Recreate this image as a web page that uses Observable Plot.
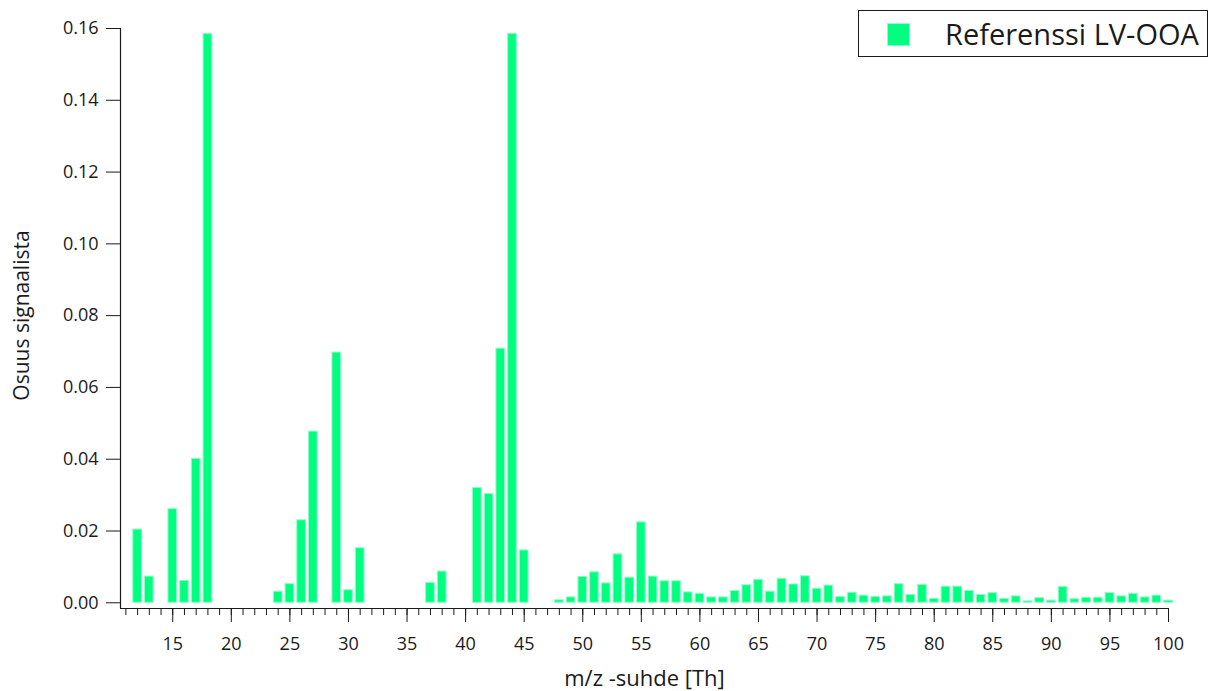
<!DOCTYPE html>
<html>
<head>
<meta charset="utf-8">
<script src="https://cdn.jsdelivr.net/npm/d3@7"></script>
<script src="https://cdn.jsdelivr.net/npm/@observablehq/plot@0.6"></script>
<style>
  html, body { margin: 0; padding: 0; background: #fff; }
  #chart { width: 1208px; height: 691px; }
</style>
</head>
<body>
<div id="chart"></div>
<script>
// Mass spectrum of the reference LV-OOA factor: m/z and fraction of signal
const mzValues = [
  12, 13, 15, 16, 17, 18, 24, 25, 26, 27, 29, 30, 31, 37, 38, 41, 42, 43, 44, 45,
  48, 49, 50, 51, 52, 53, 54, 55, 56, 57, 58, 59, 60, 61, 62, 63, 64, 65, 66, 67,
  68, 69, 70, 71, 72, 73, 74, 75, 76, 77, 78, 79, 80, 81, 82, 83, 84, 85, 86, 87,
  88, 89, 90, 91, 92, 93, 94, 95, 96, 97, 98, 99, 100
];
const signalFraction = [
  0.0204, 0.0073, 0.0261, 0.0061, 0.0401, 0.1585, 0.0031, 0.0052, 0.0230, 0.0477,
  0.0697, 0.0035, 0.0152, 0.0055, 0.0087, 0.0320, 0.0303, 0.0708, 0.1585, 0.0146,
  0.0007, 0.0015, 0.0072, 0.0085, 0.0054, 0.0135, 0.0070, 0.0224, 0.0073, 0.0060,
  0.0060, 0.0029, 0.0025, 0.0015, 0.0015, 0.0033, 0.0049, 0.0064, 0.0031, 0.0067,
  0.0051, 0.0074, 0.0039, 0.0048, 0.0016, 0.0028, 0.0020, 0.0016, 0.0018, 0.0052,
  0.0022, 0.0050, 0.0011, 0.0045, 0.0045, 0.0033, 0.0022, 0.0027, 0.0011, 0.0018,
  0.0004, 0.0013, 0.0006, 0.0044, 0.0010, 0.0014, 0.0014, 0.0027, 0.0018, 0.0025,
  0.0015, 0.0020, 0.0006
];
const seriesName = "Referenssi LV-OOA";
const xTitle = "m/z -suhde [Th]";
const yTitle = "Osuus signaalista";
const xMinorTicks = d3.range(11, 101);
const xMajorTicks = d3.range(15, 101, 5);
const yTicks = d3.range(0, 0.1601, 0.02);

const barFill = "#00ff80";
const barEdge = "#8dffc6";
const ink = "#1a1a1a";

const spectrum = mzValues.map((mz, i) => ({mz, value: signalFraction[i]}));
const halfBar = 0.37;

const fontFamily = "'Open Sans', 'Segoe UI', sans-serif";

const chart = Plot.plot({
  width: 1208,
  height: 691,
  marginLeft: 120,
  marginRight: 40,
  marginTop: 28,
  marginBottom: 83,
  style: {fontFamily, fontSize: "18px", color: ink, background: "#fff"},
  x: {domain: [10.54, 100], axis: null},
  y: {domain: [-0.00159, 0.16], axis: null},
  marks: [
    Plot.rectY(spectrum, {
      x1: d => d.mz - halfBar,
      x2: d => d.mz + halfBar,
      y1: 0,
      y2: "value",
      fill: barFill,
      stroke: barEdge,
      strokeWidth: 1
    }),
    // axis lines
    Plot.ruleY([-0.00159], {stroke: ink, strokeWidth: 1.2}),
    Plot.ruleX([10.54], {stroke: ink, strokeWidth: 1.2, y1: -0.00159, y2: 0.16}),
    // x axis: minor ticks every unit, labelled ticks every five
    Plot.axisX({ticks: xMinorTicks, tickSize: 7, tickFormat: () => "", label: null, stroke: ink}),
    Plot.axisX({ticks: xMajorTicks, tickSize: 14, tickPadding: 15, tickFormat: d => String(d), label: null, stroke: ink, fill: ink}),
    // y axis
    Plot.axisY({ticks: yTicks, tickSize: 14, tickPadding: 8, tickFormat: d3.format(".2f"), label: null, stroke: ink, fill: ink}),
    // axis titles
    Plot.text([xTitle], {frameAnchor: "bottom", lineAnchor: "middle", dy: 70, fontSize: 22, fill: ink}),
    Plot.text([yTitle], {frameAnchor: "left", textAnchor: "middle", lineAnchor: "middle", dx: -98, dy: -3, rotate: -90, fontSize: 21, fill: ink})
  ]
});

// Legend box in the top-right corner of the plot
const svg = d3.select(chart);
const legend = svg.append("g").attr("class", "legend");
legend.append("rect")
  .attr("x", 858.5).attr("y", 10.5)
  .attr("width", 349).attr("height", 46)
  .attr("fill", "#fff").attr("stroke", ink).attr("stroke-width", 1);
legend.append("rect")
  .attr("x", 887.5).attr("y", 23.5)
  .attr("width", 22).attr("height", 22)
  .attr("fill", barFill).attr("stroke", barEdge).attr("stroke-width", 1);
legend.append("text")
  .attr("x", 945).attr("y", 45)
  .attr("text-anchor", "start")
  .attr("font-family", fontFamily)
  .attr("font-size", 29)
  .attr("fill", ink)
  .text(seriesName);

document.getElementById("chart").appendChild(chart);
</script>
</body>
</html>
